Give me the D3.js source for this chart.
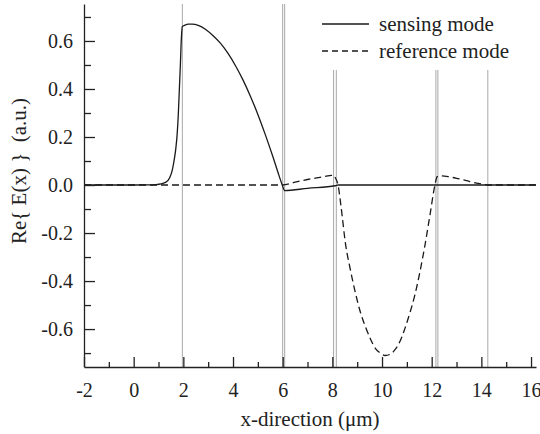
<!DOCTYPE html>
<html>
<head>
<meta charset="utf-8">
<script src="https://cdn.jsdelivr.net/npm/d3@7"></script>
<style>
  html, body { margin: 0; padding: 0; background: #fff; }
  svg { display: block; }
  svg text { font-family: "Liberation Serif", "Times New Roman", Times, "DejaVu Serif", "Noto Serif", serif !important; fill: #222; }
</style>
</head>
<body>
<svg id="chart" width="540" height="434"></svg>
<script>
// ---- data ----
const sensingX = [-2, 0, 0.6, 0.9, 1.1, 1.3, 1.45, 1.55, 1.64, 1.7, 1.75, 1.8, 1.84, 1.88, 1.92, 1.96,
  2.05, 2.2, 2.35, 2.6, 2.9, 3.2, 3.5, 3.8, 4.1, 4.4, 4.7, 5.0, 5.3, 5.6, 5.85, 6.0, 6.07,
  7.0, 8.12, 8.25, 10, 12, 14, 16.2];
const sensingY = [0, 0, 0.0005, 0.002, 0.005, 0.012, 0.03, 0.06, 0.11, 0.155, 0.21, 0.3, 0.4, 0.5, 0.61, 0.66,
  0.665, 0.67, 0.67, 0.665, 0.648, 0.622, 0.59, 0.548, 0.497, 0.438, 0.37, 0.294, 0.21, 0.12, 0.04, -0.005, -0.023,
  -0.014, -0.003, 0, 0, 0, 0, 0];

const referenceX = [-2, 6.0, 6.5, 7.0, 7.5, 7.9, 8.05, 8.12, 8.23, 8.35, 8.53, 8.73, 8.93, 9.13, 9.33, 9.53,
  9.73, 9.93, 10.13, 10.33, 10.53, 10.73, 10.93, 11.13, 11.33, 11.53, 11.73, 11.93, 12.13, 12.22, 12.35,
  12.7, 13.0, 13.4, 13.8, 14.1, 14.28, 16.2];
const referenceY = [0, 0, 0.012, 0.023, 0.032, 0.039, 0.041, 0.03, 0, -0.09, -0.245, -0.355, -0.45, -0.53, -0.59, -0.64,
  -0.68, -0.70, -0.71, -0.705, -0.685, -0.65, -0.595, -0.53, -0.455, -0.36, -0.25, -0.125, 0, 0.035, 0.038,
  0.034, 0.028, 0.018, 0.008, 0.003, 0, 0];

const boundaries = [1.96, 6.0, 6.08, 8.05, 8.16, 12.17, 12.25, 14.26];
const boundariesToTop = [1.96, 6.0, 6.08];

const xTicks = [-2, 0, 2, 4, 6, 8, 10, 12, 14, 16];
const xMinor = [-1, 1, 3, 5, 7, 9, 11, 13, 15];
const yTicks = [-0.6, -0.4, -0.2, 0.0, 0.2, 0.4, 0.6];
const yMinor = [-0.7, -0.5, -0.3, -0.1, 0.1, 0.3, 0.5, 0.7];

const seriesNames = ["sensing mode", "reference mode"];
const xLabel = "x-direction (\u03BCm)";
const yLabel = "Re{ E(x) }  (a.u.)";

// ---- layout ----
const FONT = '"Liberation Serif", "Times New Roman", Times, "DejaVu Serif", "Noto Serif", serif';
const svg = d3.select("#chart");
const mLeft = 84, mRight = 536, mTop = 4, mBottom = 367;
const x = d3.scaleLinear().domain([-2, 16.2]).range([mLeft, mRight]);
const y = d3.scaleLinear().domain([-0.758, 0.754]).range([mBottom, mTop]);

// boundary lines
const legendBottom = 70;
svg.append("g").selectAll("line").data(boundaries).join("line")
  .attr("x1", d => x(d)).attr("x2", d => x(d))
  .attr("y1", d => boundariesToTop.includes(d) ? mTop : legendBottom)
  .attr("y2", mBottom)
  .attr("stroke", "#a8a8a8").attr("stroke-width", 1);

// curves
const line = d3.line().x(d => x(d[0])).y(d => y(d[1])).curve(d3.curveMonotoneX);
svg.append("path").datum(referenceX.map((v, i) => [v, referenceY[i]]))
  .attr("d", line).attr("fill", "none").attr("stroke", "#1a1a1a")
  .attr("stroke-width", 1.3).attr("stroke-dasharray", "7,4");
svg.append("path").datum(sensingX.map((v, i) => [v, sensingY[i]]))
  .attr("d", line).attr("fill", "none").attr("stroke", "#1a1a1a")
  .attr("stroke-width", 1.3);

// axes
const fmt = d => (Math.abs(d) < 1e-9 ? 0 : d).toFixed(1);
svg.append("g").attr("transform", `translate(${mLeft},0)`)
  .call(d3.axisLeft(y).tickValues(yTicks).tickFormat(fmt).tickSize(-11).tickSizeOuter(0).tickPadding(11));
svg.append("g").attr("transform", `translate(${mLeft},0)`)
  .call(d3.axisLeft(y).tickValues(yMinor).tickFormat("").tickSize(-7).tickSizeOuter(0))
  .select(".domain").remove();
svg.append("g").attr("transform", `translate(0,${mBottom})`)
  .call(d3.axisBottom(x).tickValues(xTicks).tickFormat(d => String(d)).tickSize(-10).tickSizeOuter(0).tickPadding(16));
svg.append("g").attr("transform", `translate(0,${mBottom})`)
  .call(d3.axisBottom(x).tickValues(xMinor).tickFormat("").tickSize(-5).tickSizeOuter(0))
  .select(".domain").remove();

svg.selectAll("g").attr("font-family", FONT);
svg.selectAll(".domain, .tick line").attr("stroke", "#222").attr("stroke-width", 1.3);
svg.selectAll(".tick text").attr("font-size", 20).attr("fill", "#222").style("font-family", FONT);

// axis titles
svg.append("text").attr("x", (mLeft + mRight) / 2).attr("y", 426)
  .attr("text-anchor", "middle").attr("font-size", 21).style("font-family", FONT).text(xLabel);
svg.append("text").attr("transform", "translate(26,171) rotate(-90)")
  .attr("text-anchor", "middle").attr("font-size", 21).style("font-family", FONT)
  .style("white-space", "pre").attr("xml:space", "preserve").text(yLabel);

// legend
const lg = svg.append("g");
lg.append("rect").attr("x", 310).attr("y", 0).attr("width", 230).attr("height", legendBottom).attr("fill", "#fff");
const legendRows = [{ name: seriesNames[0], dash: null, ly: 24 }, { name: seriesNames[1], dash: "6,4", ly: 51 }];
legendRows.forEach(r => {
  lg.append("line").attr("x1", 322).attr("x2", 369).attr("y1", r.ly).attr("y2", r.ly)
    .attr("stroke", "#1a1a1a").attr("stroke-width", 1.3)
    .attr("stroke-dasharray", r.dash);
  lg.append("text").attr("x", 379).attr("y", r.ly + 7).attr("font-size", 21).style("font-family", FONT).text(r.name);
});
</script>
</body>
</html>
